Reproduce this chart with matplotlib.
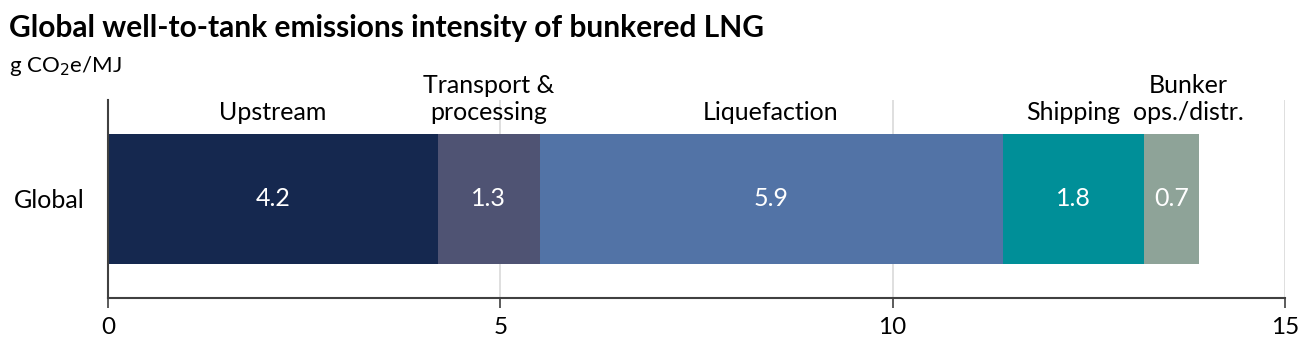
import matplotlib.pyplot as plt

plt.rcParams['font.family'] = ['Lato', 'DejaVu Sans']

# well-to-tank emissions by stage, g CO2e/MJ
stages = ['Upstream', 'Transport &\nprocessing', 'Liquefaction', 'Shipping', 'Bunker\nops./distr.']
values = [4.2, 1.3, 5.9, 1.8, 0.7]
colors = ['#15284f', '#4f5373', '#5273a6', '#008f98', '#8ea398']
region = 'Global'
xticks = [0, 5, 10, 15]

fig = plt.figure(figsize=(13.08, 3.41), dpi=100)
ax = fig.add_axes([0.0826, 0.126, 0.8998, 0.581])

left = 0
for name, v, c in zip(stages, values, colors):
    ax.barh(0, v, left=left, height=0.66, color=c, zorder=2)
    ax.text(left + v / 2, 0, f'{v:.1f}', ha='center', va='center',
            color='white', fontsize=18)
    dx = 0.22 if name.startswith('Bunker') else 0
    ax.annotate(name, (left + v / 2 + dx, 0.33), xytext=(0, 7),
                textcoords='offset points', ha='center', va='bottom',
                fontsize=18, linespacing=1.2, annotation_clip=False)
    left += v

ax.set_xlim(0, 15)
ax.set_ylim(-0.5, 0.5)
ax.set_xticks(xticks)
ax.set_yticks([0])
ax.set_yticklabels([region])
ax.tick_params(axis='x', direction='out', length=7, width=1.2, color='#404040',
               labelsize=17.5, pad=7)
ax.tick_params(axis='y', length=0, labelsize=18, pad=17)
ax.xaxis.grid(True, color='#d9d9d9', linewidth=1.2, zorder=0)
ax.set_axisbelow(True)
for s in ['top', 'right']:
    ax.spines[s].set_visible(False)
for s in ['left', 'bottom']:
    ax.spines[s].set_color('#404040')
    ax.spines[s].set_linewidth(1.5)

fig.text(0.007, 0.892, 'Global well-to-tank emissions intensity of bunkered LNG',
         fontsize=21.5, fontweight='bold', ha='left', va='baseline')
fig.text(0.007, 0.79, 'g CO$_2$e/MJ', fontsize=16, ha='left', va='baseline')

fig.savefig('out.png', dpi=100)
